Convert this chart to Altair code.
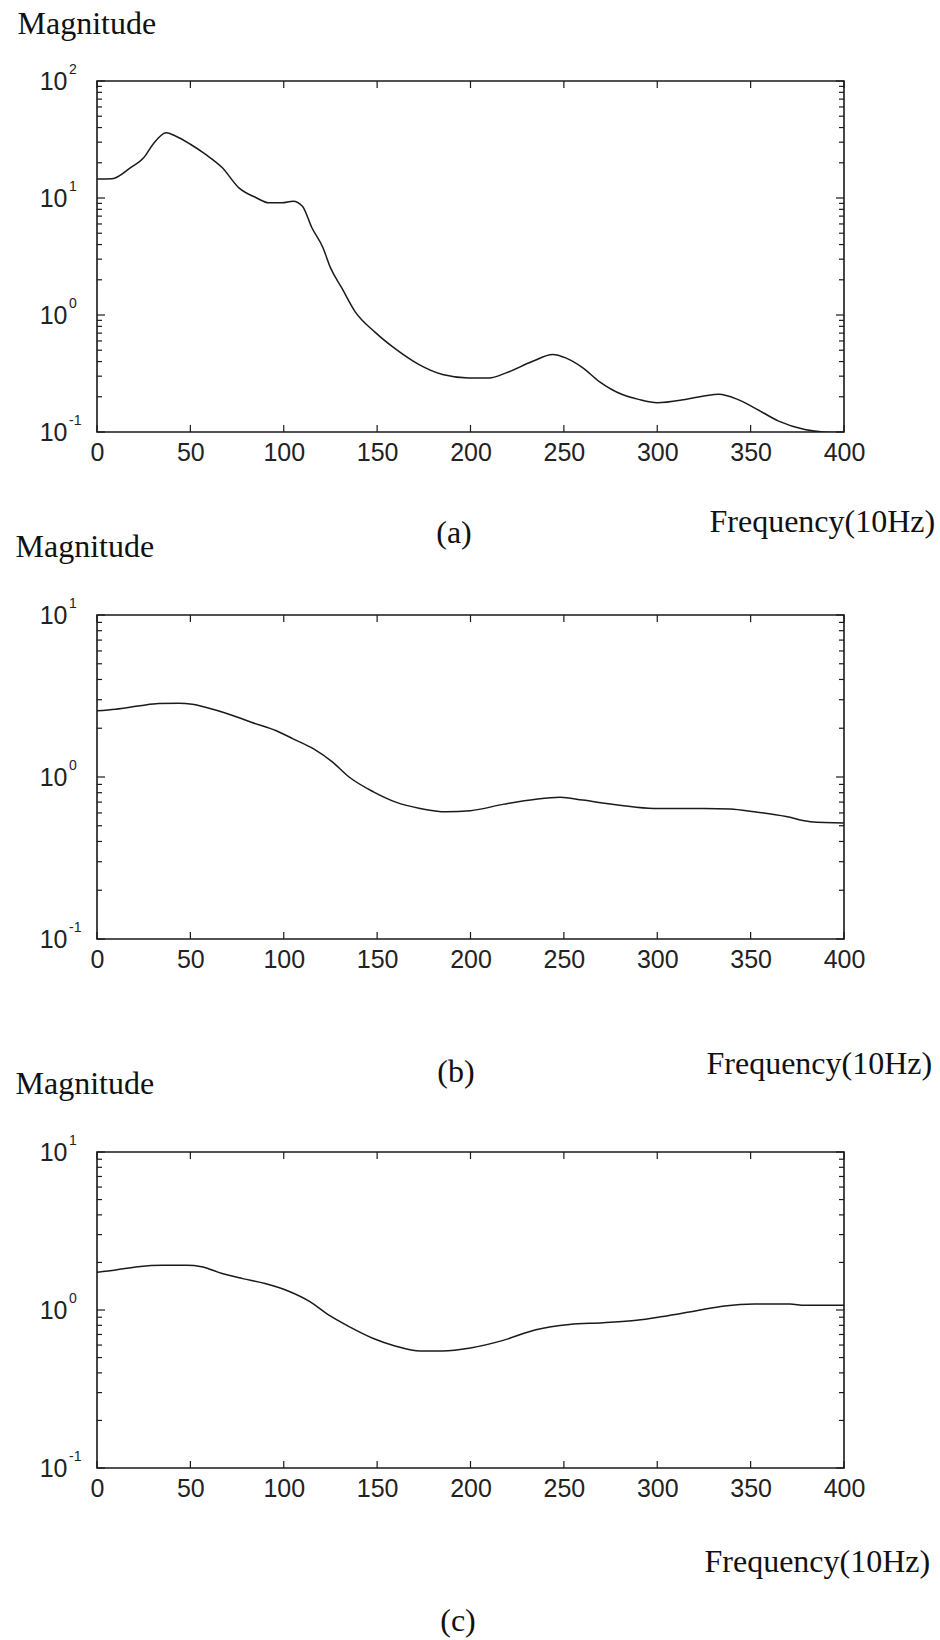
import altair as alt
import pandas as pd

# ---------------- data ----------------
freq_a = [0, 8, 18, 25, 30, 37, 42, 50, 58, 67, 76, 85, 92, 99, 105, 110, 115, 121, 125,
          131, 138, 149, 160, 172, 185, 199, 210, 219, 233, 244, 251, 260, 269, 281, 290,
          300, 315, 325, 333, 343, 352, 365, 379, 389, 400]
mag_a = [14.5, 14.6, 18.2, 22.1, 28.8, 36.1, 33.9, 28.8, 23.7, 18.2, 12.2, 10.1, 9.1, 9.1,
         9.4, 8.5, 5.6, 3.76, 2.54, 1.71, 1.08, 0.71, 0.51, 0.38, 0.31, 0.29, 0.29, 0.32,
         0.40, 0.46, 0.43, 0.355, 0.27, 0.21, 0.19, 0.178, 0.19, 0.203, 0.21, 0.19, 0.161,
         0.124, 0.105, 0.1, 0.099]

freq_b = [0, 10, 23, 33, 44, 51, 62, 73, 83, 96, 105, 116, 126, 135, 148, 160, 173, 187,
          200, 218, 235, 248, 260, 280, 298, 325, 339, 352, 369, 382, 400]
mag_b = [2.56, 2.62, 2.75, 2.84, 2.85, 2.81, 2.62, 2.39, 2.17, 1.93, 1.72, 1.49, 1.24, 1.0,
         0.81, 0.70, 0.64, 0.61, 0.62, 0.68, 0.73, 0.75, 0.72, 0.67, 0.64, 0.64, 0.635,
         0.61, 0.57, 0.53, 0.52]

freq_c = [0, 10, 22, 35, 48, 56, 67, 78, 90, 103, 114, 124, 135, 148, 160, 173, 185, 200,
          217, 235, 253, 271, 289, 303, 321, 336, 352, 371, 379, 400]
mag_c = [1.73, 1.79, 1.88, 1.92, 1.92, 1.88, 1.70, 1.58, 1.47, 1.31, 1.13, 0.93, 0.785,
         0.66, 0.59, 0.55, 0.55, 0.575, 0.64, 0.75, 0.81, 0.83, 0.86, 0.91, 0.99, 1.06,
         1.09, 1.09, 1.07, 1.07]

x_ticks = [0, 50, 100, 150, 200, 250, 300, 350, 400]
decades_a = [0.1, 1, 10, 100]
exponents_a = ["-1", "0", "1", "2"]
decades_bc = [0.1, 1, 10]
exponents_bc = ["-1", "0", "1"]
mantissas = [2, 3, 4, 5, 6, 7, 8, 9]
panel_labels = ["(a)", "(b)", "(c)"]
x_title = "Frequency(10Hz)"
y_title = "Magnitude"

# ---------------- styling ----------------
INK = "#1a1a1a"
SERIF = "Liberation Serif"
SANS = "Liberation Sans"
W = 747


def minor_values(decades):
    vals = []
    for d in decades[:-1]:
        for m in mantissas:
            vals.append(round(d * m, 6))
    return vals


def panel(freq, mag, decades, exps, label, H, mag_xy, freq_xy, label_xy):
    xs = alt.Scale(domain=[0, 400], nice=False, zero=False)
    ys = alt.Scale(type="log", domain=[decades[0], decades[-1]], nice=False)
    x_axis = alt.Axis(
        values=x_ticks, grid=False, domain=False, ticks=False, tickSize=0,
        labelFont=SANS, labelFontSize=25, labelColor="#222", labelPadding=8,
        labelFlush=False, labelOverlap=False,
        title=x_title, titleFont=SERIF, titleFontSize=32, titleFontWeight="normal",
        titleColor="#111", titleAlign="left", titleBaseline="alphabetic",
        titleX=freq_xy[0], titleY=freq_xy[1])
    y_axis = alt.Axis(
        values=decades, labelExpr="'10'", grid=False, domain=False, ticks=False,
        tickSize=0, labelFont=SANS, labelFontSize=25, labelColor="#222",
        labelPadding=30, labelOverlap=False, labelFlush=False,
        title=y_title, titleFont=SERIF, titleFontSize=32, titleFontWeight="normal",
        titleColor="#111", titleAngle=0, titleAlign="left",
        titleBaseline="alphabetic", titleX=mag_xy[0], titleY=mag_xy[1])

    df = pd.DataFrame({"f": freq, "m": mag})
    line = alt.Chart(df).mark_line(
        color=INK, strokeWidth=1.5, interpolate="monotone", clip=True
    ).encode(
        x=alt.X("f:Q", scale=xs, axis=x_axis),
        y=alt.Y("m:Q", scale=ys, axis=y_axis),
    )

    expo = alt.Chart(pd.DataFrame({"v": decades, "e": exps})).mark_text(
        align="left", baseline="alphabetic", dy=-7, font=SANS, fontSize=14, color="#222"
    ).encode(x=alt.value(-28), y=alt.Y("v:Q", scale=ys, axis=y_axis), text="e:N")

    xt = pd.DataFrame({"f": x_ticks})
    top_t = alt.Chart(xt).mark_rule(color=INK, strokeWidth=1.2).encode(
        x=alt.X("f:Q", scale=xs, axis=x_axis), y=alt.value(0), y2=alt.value(7))
    bot_t = alt.Chart(xt).mark_rule(color=INK, strokeWidth=1.2).encode(
        x=alt.X("f:Q", scale=xs, axis=x_axis), y=alt.value(H), y2=alt.value(H - 7))

    mn = pd.DataFrame({"v": minor_values(decades)})
    mj = pd.DataFrame({"v": decades})
    l_min = alt.Chart(mn).mark_rule(color=INK, strokeWidth=1.2).encode(
        y=alt.Y("v:Q", scale=ys, axis=y_axis), x=alt.value(0), x2=alt.value(5))
    r_min = alt.Chart(mn).mark_rule(color=INK, strokeWidth=1.2).encode(
        y=alt.Y("v:Q", scale=ys, axis=y_axis), x=alt.value(W - 5), x2=alt.value(W))
    l_maj = alt.Chart(mj).mark_rule(color=INK, strokeWidth=1.2).encode(
        y=alt.Y("v:Q", scale=ys, axis=y_axis), x=alt.value(0), x2=alt.value(8))
    r_maj = alt.Chart(mj).mark_rule(color=INK, strokeWidth=1.2).encode(
        y=alt.Y("v:Q", scale=ys, axis=y_axis), x=alt.value(W - 8), x2=alt.value(W))

    lab = alt.Chart(pd.DataFrame({"t": [label]})).mark_text(
        align="center", baseline="alphabetic", font=SERIF, fontSize=32, color="#111"
    ).encode(x=alt.value(label_xy[0]), y=alt.value(label_xy[1]), text="t:N")

    return alt.layer(line, expo, top_t, bot_t, l_min, r_min, l_maj, r_maj, lab).properties(
        width=W, height=H)


HA, HB, HC = 351, 324, 316
pa = panel(freq_a, mag_a, decades_a, exponents_a, panel_labels[0], HA,
           (-80, -48), (612, 99), (357, HA + 111))
pb = panel(freq_b, mag_b, decades_bc, exponents_bc, panel_labels[1], HB,
           (-82, -59), (609, 134), (359, HB + 143))
pc = panel(freq_c, mag_c, decades_bc, exponents_bc, panel_labels[2], HC,
           (-82, -59), (607, 103), (361, HC + 163))

chart = alt.vconcat(
    pa,
    alt.vconcat(pb, pc, spacing=213, bounds="flush"),
    spacing=183, bounds="flush",
).properties(
    padding={"left": 14, "top": 6, "right": 4, "bottom": 4},
    background="white",
).configure_view(stroke=INK, strokeWidth=1.6)

chart.save("out.html", embed_options={"renderer": "svg", "actions": False})
